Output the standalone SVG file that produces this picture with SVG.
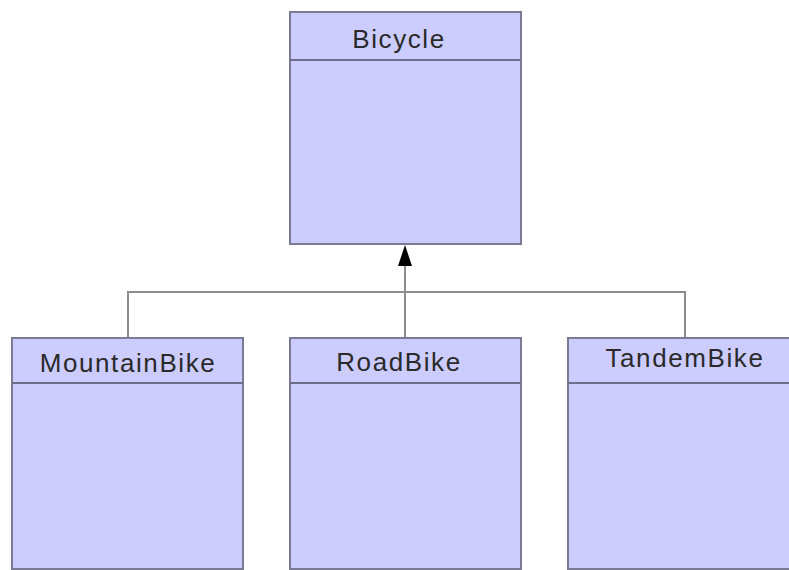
<svg xmlns="http://www.w3.org/2000/svg" width="789" height="570" viewBox="0 0 789 570">
  <style>
    .box { fill: #ccccff; stroke: #7a7a96; stroke-width: 2; }
    .sep { stroke: #6e6e8a; stroke-width: 2; }
    .name { font-family: "Liberation Sans", Arial, sans-serif; font-size: 26px; letter-spacing: 1.6px; fill: #2a2a2a; text-anchor: middle; }
    .conn { fill: none; stroke: #8c8c8c; stroke-width: 2; }
  </style>

  <rect width="789" height="570" fill="#ffffff"/>

  <g id="connectors">
    <path class="conn" d="M128,337 V292 H685 V337"/>
    <path class="conn" d="M405,337 V262" stroke="#777777"/>
    <!-- generalization arrowhead at the Bicycle box -->
    <polygon points="405,245 398,266 412,266" fill="#000000"/>
  </g>

  <g id="bicycle">
    <rect class="box" x="290" y="12" width="231" height="232"/>
    <line class="sep" x1="290" y1="60" x2="521" y2="60"/>
    <text class="name" x="399" y="48">Bicycle</text>
  </g>

  <g id="mountainbike">
    <rect class="box" x="12" y="338" width="231" height="231"/>
    <line class="sep" x1="12" y1="383" x2="243" y2="383"/>
    <text class="name" x="128" y="372">MountainBike</text>
  </g>

  <g id="roadbike">
    <rect class="box" x="290" y="338" width="231" height="231"/>
    <line class="sep" x1="290" y1="383" x2="521" y2="383"/>
    <text class="name" x="399" y="371">RoadBike</text>
  </g>

  <g id="tandembike">
    <rect class="box" x="568" y="338" width="240" height="231"/>
    <line class="sep" x1="568" y1="383" x2="789" y2="383"/>
    <text class="name" x="685" y="367">TandemBike</text>
  </g>
</svg>
